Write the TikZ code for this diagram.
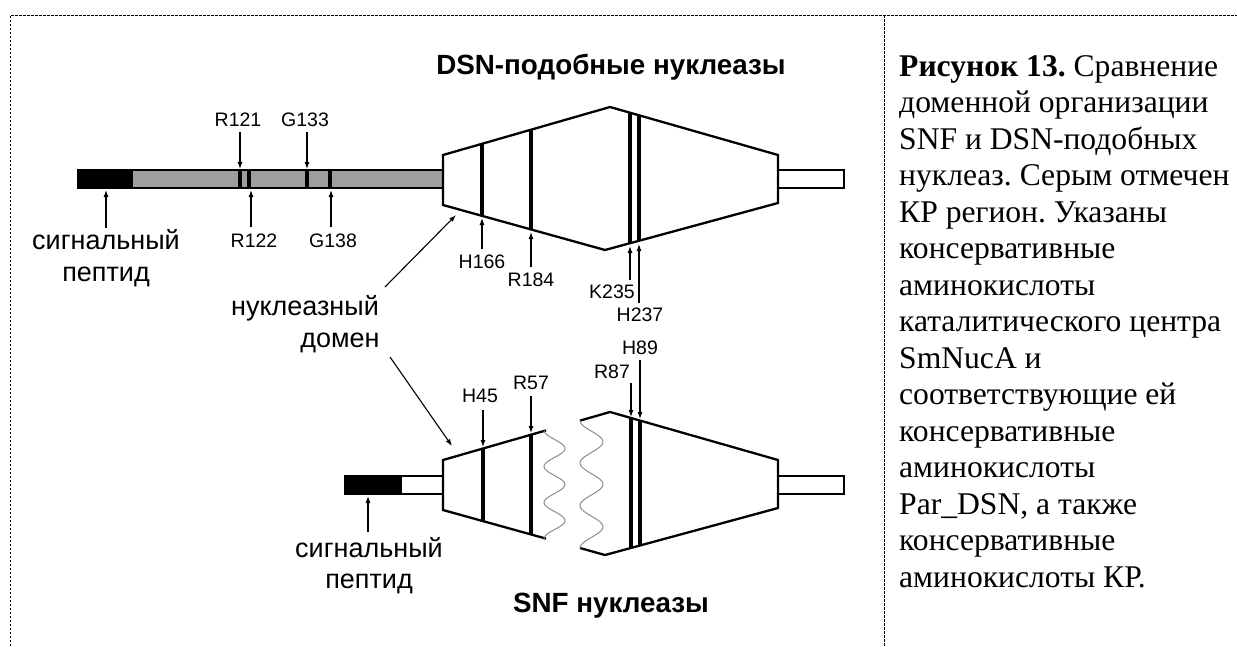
\documentclass[tikz,border=0pt]{standalone}
\usepackage{fontspec}
\setmainfont{Liberation Serif}
\newfontfamily\arialf{Liberation Sans}
\usetikzlibrary{arrows.meta}
\frenchspacing
\tikzset{
  outl/.style={line width=2.3pt, line join=miter},
  barl/.style={line width=1.6pt},
  band/.style={line width=3.6pt},
  barband/.style={line width=4pt},
  arr/.style={line width=1.1pt, -{Latex[length=7pt,width=5pt]}},
  res/.style={font=\arialf\fontsize{19.5}{22}\selectfont, inner sep=0pt},
  lab/.style={font=\arialf\fontsize{27}{30}\selectfont, inner sep=0pt, anchor=base},
  ttl/.style={font=\arialf\bfseries\fontsize{27.8}{30}\selectfont, inner sep=0pt, anchor=base},
  capline/.style={font=\fontsize{31.6}{36.5}\selectfont, inner sep=0pt, anchor=base west},
  wave/.style={line width=1pt, draw=black!45},
  frame/.style={line width=0.9pt, dash pattern=on 2.5pt off 1.5pt},
}
\begin{document}
\begin{tikzpicture}[x=1pt,y=-1pt]
\useasboundingbox (0,0) rectangle (1237,646);
% frame
\draw[frame] (10,646) -- (10,15) -- (1237,15);
\draw[frame] (884,15) -- (884,646);

% ===== DSN-like nuclease =====
\node[ttl] (tdsn) at (611,74) {DSN-подобные нуклеазы};
\fill[black!38] (133,170) rectangle (443,188);
\fill[black] (78,170) rectangle (133,188);
\foreach \x in {240,249,307,330} \draw[barband] (\x,170) -- (\x,188);
\draw[barl] (78,170) rectangle (443,188);
\draw[barl, fill=white] (778,170) rectangle (844,188);
\fill[white] (443,155) -- (610,107) -- (778,155) -- (778,203) -- (605,250) -- (443,205) -- cycle;
\begin{scope}
  \clip (443,155) -- (610,107) -- (778,155) -- (778,203) -- (605,250) -- (443,205) -- cycle;
  \foreach \x in {482,531,630,639} \draw[band] (\x,90) -- (\x,270);
\end{scope}
\draw[outl] (443,155) -- (610,107) -- (778,155) -- (778,203) -- (605,250) -- (443,205) -- cycle;

% DSN labels and arrows
\node[res] (lR121) at (238,120) {R121};
\node[res] (lG133) at (305,120) {G133};
\node[res] (lR122) at (254,241) {R122};
\node[res] (lG138) at (333,241) {G138};
\coordinate (tR121) at (240,132); \coordinate (hR121) at (240,169);
\coordinate (tG133) at (307,132); \coordinate (hG133) at (307,169);
\coordinate (tR122) at (251,227); \coordinate (hR122) at (251,190);
\coordinate (tG138) at (331,227); \coordinate (hG138) at (331,190);
\draw[arr] (tR121) -- (hR121);
\draw[arr] (tG133) -- (hG133);
\draw[arr] (tR122) -- (hR122);
\draw[arr] (tG138) -- (hG138);
\node[lab] (sig1) at (106,249) {сигнальный};
\node[lab] (pep1) at (106,281) {пептид};
\coordinate (tsig1) at (106,228); \coordinate (hsig1) at (106,190);
\draw[arr] (tsig1) -- (hsig1);

\node[res] (lH166) at (482,262) {H166};
\node[res] (lR184) at (531,280) {R184};
\node[res] (lK235) at (612,292) {K235};
\node[res] (lH237) at (640,315) {H237};
\coordinate (tH166) at (482,249); \coordinate (hH166) at (482,218);
\coordinate (tR184) at (531,267); \coordinate (hR184) at (531,232);
\coordinate (tK235) at (630,280); \coordinate (hK235) at (630,246);
\coordinate (tH237) at (639,303); \coordinate (hH237) at (639,244);
\draw[arr] (tH166) -- (hH166);
\draw[arr] (tR184) -- (hR184);
\draw[arr] (tK235) -- (hK235);
\draw[arr] (tH237) -- (hH237);

% nuclease domain label
\node[lab] (nuc) at (305,315) {нуклеазный};
\node[lab] (dom) at (340,347) {домен};
\coordinate (td1) at (385,287); \coordinate (hd1) at (456,215);
\coordinate (td2) at (390,357); \coordinate (hd2) at (452,446);
\draw[arr] (td1) -- (hd1);
\draw[arr] (td2) -- (hd2);

% ===== SNF nuclease =====
\fill[black] (345,476) rectangle (402,494);
\draw[barl] (345,476) rectangle (443,494);
\draw[barl, fill=white] (778,476) rectangle (844,494);
% left part
\fill[white] (546,430.4) -- (443,460) -- (443,510) -- (546,538.6)
  -- plot[domain=1:0, samples=70, smooth] ({544+10.5*(1-cos(3*360*\x))},{430.4+108.2*\x}) -- cycle;
\begin{scope}
  \clip (546,430.4) -- (443,460) -- (443,510) -- (546,538.6)
    -- plot[domain=1:0, samples=70, smooth] ({544+10.5*(1-cos(3*360*\x))},{430.4+108.2*\x}) -- cycle;
  \foreach \x in {483,531} \draw[band] (\x,400) -- (\x,570);
\end{scope}
\draw[outl] (546,430.4) -- (443,460) -- (443,510) -- (546,538.6);
\draw[wave] plot[domain=0:1, samples=70, smooth] ({544+10.5*(1-cos(3*360*\x))},{430.4+108.2*\x});
% right part
\fill[white] (580,420.6) -- (610,412) -- (778,460) -- (778,508) -- (605,555) -- (580,548)
  -- plot[domain=1:0, samples=70, smooth] ({580+11.5*(1-cos(3*360*\x))},{420.6+127.4*\x}) -- cycle;
\begin{scope}
  \clip (580,420.6) -- (610,412) -- (778,460) -- (778,508) -- (605,555) -- (580,548)
    -- plot[domain=1:0, samples=70, smooth] ({580+11.5*(1-cos(3*360*\x))},{420.6+127.4*\x}) -- cycle;
  \foreach \x in {631,640} \draw[band] (\x,400) -- (\x,570);
\end{scope}
\draw[outl] (580,420.6) -- (610,412) -- (778,460) -- (778,508) -- (605,555) -- (580,548);
\draw[wave] plot[domain=0:1, samples=70, smooth] ({580+11.5*(1-cos(3*360*\x))},{420.6+127.4*\x});

% SNF labels and arrows
\node[res] (lH45) at (480,396) {H45};
\node[res] (lR57) at (531,383) {R57};
\node[res] (lR87) at (612,372) {R87};
\node[res] (lH89) at (640,348) {H89};
\coordinate (tH45) at (483,410); \coordinate (hH45) at (483,447);
\coordinate (tR57) at (531,396); \coordinate (hR57) at (531,433);
\coordinate (tR87) at (631,383); \coordinate (hR87) at (631,417);
\coordinate (tH89) at (640,360); \coordinate (hH89) at (640,419);
\draw[arr] (tH45) -- (hH45);
\draw[arr] (tR57) -- (hR57);
\draw[arr] (tR87) -- (hR87);
\draw[arr] (tH89) -- (hH89);
\node[lab] (sig2) at (369,557) {сигнальный};
\node[lab] (pep2) at (369,588) {пептид};
\coordinate (tsig2) at (368,532); \coordinate (hsig2) at (368,496);
\draw[arr] (tsig2) -- (hsig2);
\node[ttl] (tsnf) at (611,612) {SNF нуклеазы};

% ===== caption =====
\node[capline] (c0) at (899,76.0) {\textbf{Рисунок 13.} Сравнение};
\node[capline] (c1) at (899,112.5) {доменной организации};
\node[capline] (c2) at (899,149.0) {SNF и DSN-подобных};
\node[capline] (c3) at (899,185.5) {нуклеаз. Серым отмечен};
\node[capline] (c4) at (899,222.0) {КР регион. Указаны};
\node[capline] (c5) at (899,258.5) {консервативные};
\node[capline] (c6) at (899,295.0) {аминокислоты};
\node[capline] (c7) at (899,331.5) {каталитического центра};
\node[capline] (c8) at (899,368.0) {SmNucA и};
\node[capline] (c9) at (899,404.5) {соответствующие ей};
\node[capline] (c10) at (899,441.0) {консервативные};
\node[capline] (c11) at (899,477.5) {аминокислоты};
\node[capline] (c12) at (899,514.0) {Par\_DSN, а также};
\node[capline] (c13) at (899,550.5) {консервативные};
\node[capline] (c14) at (899,587.0) {аминокислоты КР.};
\end{tikzpicture}
\end{document}
